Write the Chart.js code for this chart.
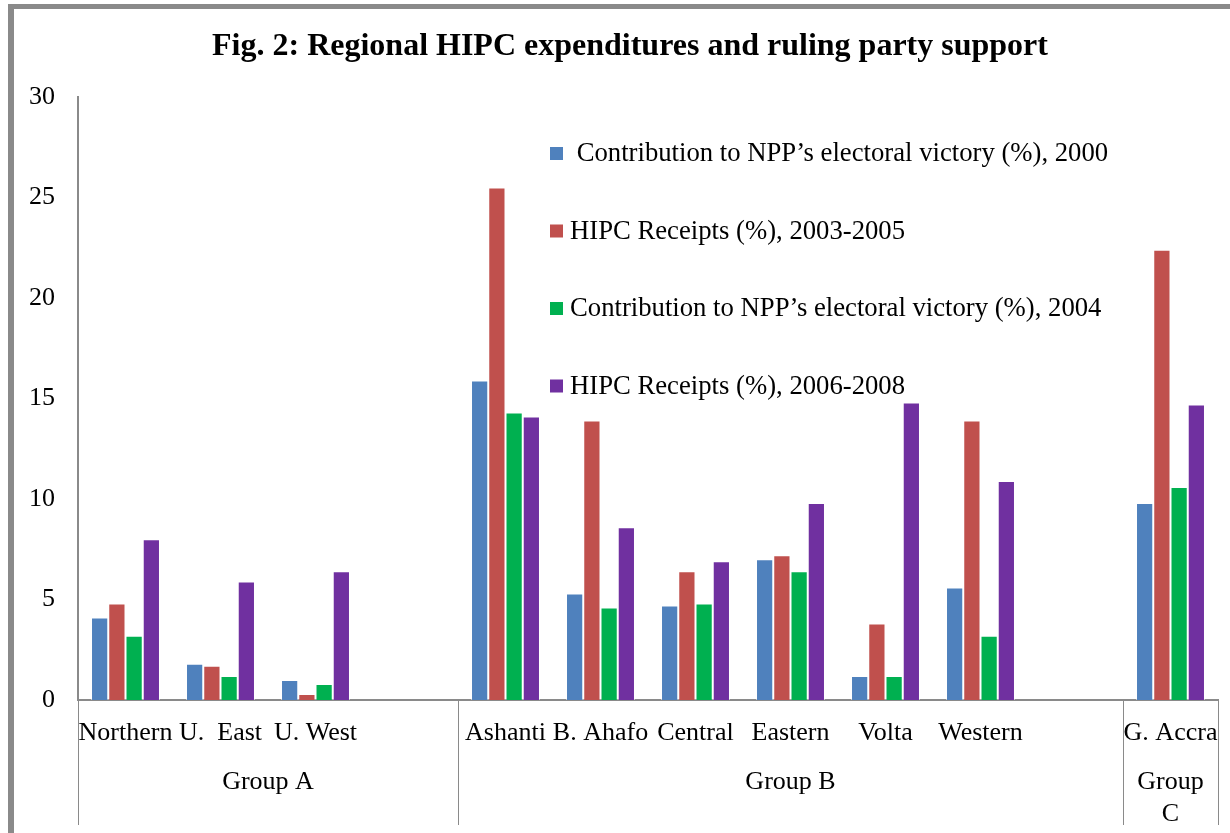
<!DOCTYPE html>
<html>
<head>
<meta charset="utf-8">
<script src="https://cdn.jsdelivr.net/npm/chart.js@4/dist/chart.umd.min.js"></script>
<style>
  body { margin: 0; background: #fff; }
  #frame { position: absolute; left: 8px; top: 4px; width: 1300px; height: 900px;
           border-left: 6px solid #8a8a8a; border-top: 5px solid #8a8a8a; }
  #wrap { position: absolute; left: 0; top: 0; width: 1230px; height: 833px; }
</style>
</head>
<body>
<div id="frame"></div>
<div id="wrap"><canvas id="hipc-chart" width="1230" height="833"></canvas></div>

<script>
	// regions (empty strings are the gaps between groups)
	var regions = ['Northern', 'U.  East', 'U. West', '', 'Ashanti', 'B. Ahafo', 'Central', 'Eastern', 'Volta', 'Western', '', 'G. Accra'];

	var npp2000 = [4.1, 1.8, 1.0, null, 15.9, 5.3, 4.7, 7.0, 1.2, 5.6, null, 9.8];
	var hipc0305 = [4.8, 1.7, 0.3, null, 25.5, 13.9, 6.4, 7.2, 3.8, 13.9, null, 22.4];
	var npp2004 = [3.2, 1.2, 0.8, null, 14.3, 4.6, 4.8, 6.4, 1.2, 3.2, null, 10.6];
	var hipc0608 = [8.0, 5.9, 6.4, null, 14.1, 8.6, 6.9, 9.8, 14.8, 10.9, null, 14.7];

	var groupNames = [['Group A'], ['Group B'], ['Group', 'C']];
	var groupFirst = [0, 4, 11];
	var groupLast = [3, 10, 11];

	var yTicks = [0, 5, 10, 15, 20, 25, 30];

	var titleText = 'Fig. 2: Regional HIPC expenditures and ruling party support';

	var serif = '"Liberation Serif", "Times New Roman", serif';

	// title sits a little right of the canvas centre, as in the figure
	var figTitle = {
		id: 'figTitle',
		afterDraw: function(chart) {
			var ctx = chart.ctx;
			ctx.save();
			ctx.font = 'bold 32px ' + serif;
			ctx.fillStyle = '#000';
			ctx.textAlign = 'center';
			ctx.textBaseline = 'middle';
			ctx.fillText(titleText, chart.width / 2 + 15, 47);
			ctx.restore();
		}
	};

	// legend drawn inside the plot, stacked vertically
	var insideLegend = {
		id: 'insideLegend',
		afterDraw: function(chart) {
			var ctx = chart.ctx;
			var area = chart.chartArea;
			ctx.save();
			ctx.font = '26.7px ' + serif;
			ctx.textBaseline = 'middle';
			chart.data.datasets.forEach(function(ds, i) {
				var y = area.top + 56 + i * 77.5;
				ctx.fillStyle = ds.backgroundColor;
				ctx.fillRect(area.left + 472, y - 6, 13, 13);
				ctx.fillStyle = '#000';
				ctx.fillText(ds.label, area.left + 492, y + 1);
			});
			ctx.restore();
		}
	};

	// group labels and divider lines under the category axis
	var groupAxis = {
		id: 'groupAxis',
		afterDraw: function(chart) {
			var ctx = chart.ctx;
			var x = chart.scales.x;
			var half = (x.getPixelForValue(1) - x.getPixelForValue(0)) / 2;
			var top = chart.chartArea.bottom;
			ctx.save();
			ctx.strokeStyle = '#8a8a8a';
			ctx.lineWidth = 1;
			ctx.font = '26px ' + serif;
			ctx.fillStyle = '#000';
			ctx.textAlign = 'center';
			ctx.textBaseline = 'middle';
			for (var g = 0; g < groupNames.length; g++) {
				var left = x.getPixelForValue(groupFirst[g]) - half;
				var right = x.getPixelForValue(groupLast[g]) + half;
				[left, right].forEach(function(px) {
					ctx.beginPath();
					ctx.moveTo(Math.round(px) + 0.5, top);
					ctx.lineTo(Math.round(px) + 0.5, top + 125);
					ctx.stroke();
				});
				groupNames[g].forEach(function(line, k) {
					ctx.fillText(line, (left + right) / 2, top + 82 + k * 32);
				});
			}
			ctx.restore();
		}
	};

	new Chart(document.getElementById('hipc-chart'), {
		type: 'bar',
		data: {
			labels: regions,
			datasets: [
				{ label: ' Contribution to NPP\u2019s electoral victory (%), 2000', data: npp2000, backgroundColor: '#4F81BD' },
				{ label: 'HIPC Receipts (%), 2003-2005', data: hipc0305, backgroundColor: '#C0504D' },
				{ label: 'Contribution to NPP\u2019s electoral victory (%), 2004', data: npp2004, backgroundColor: '#00B050' },
				{ label: 'HIPC Receipts (%), 2006-2008', data: hipc0608, backgroundColor: '#7030A0' }
			]
		},
		options: {
			responsive: false,
			animation: false,
			datasets: {
				bar: {
					categoryPercentage: 0.726,
					barPercentage: 1,
					borderWidth: 1,
					borderColor: 'rgba(255,255,255,0.55)'
				}
			},
			layout: { padding: { left: 0, right: 12, top: 97, bottom: 0 } },
			plugins: {
				legend: { display: false },
				tooltip: { enabled: false },
				title: { display: false }
			},
			scales: {
				x: {
					grid: { display: false },
					border: { display: true, color: '#8a8a8a', width: 2 },
					ticks: {
						autoSkip: false, maxRotation: 0, minRotation: 0,
						color: '#000', padding: 10,
						font: { family: serif, size: 26 }
					},
					afterFit: function(scale) { scale.height = 133; }
				},
				y: {
					min: 0, max: 30,
					afterBuildTicks: function(scale) {
						scale.ticks = yTicks.map(function(v) { return { value: v }; });
					},
					grid: { display: false },
					border: { display: true, color: '#8a8a8a', width: 2 },
					ticks: {
						color: '#000', padding: 15,
						font: { family: serif, size: 26 }
					},
					afterFit: function(scale) { scale.width = 78; }
				}
			}
		},
		plugins: [figTitle, insideLegend, groupAxis]
	});
</script>
</body>
</html>
